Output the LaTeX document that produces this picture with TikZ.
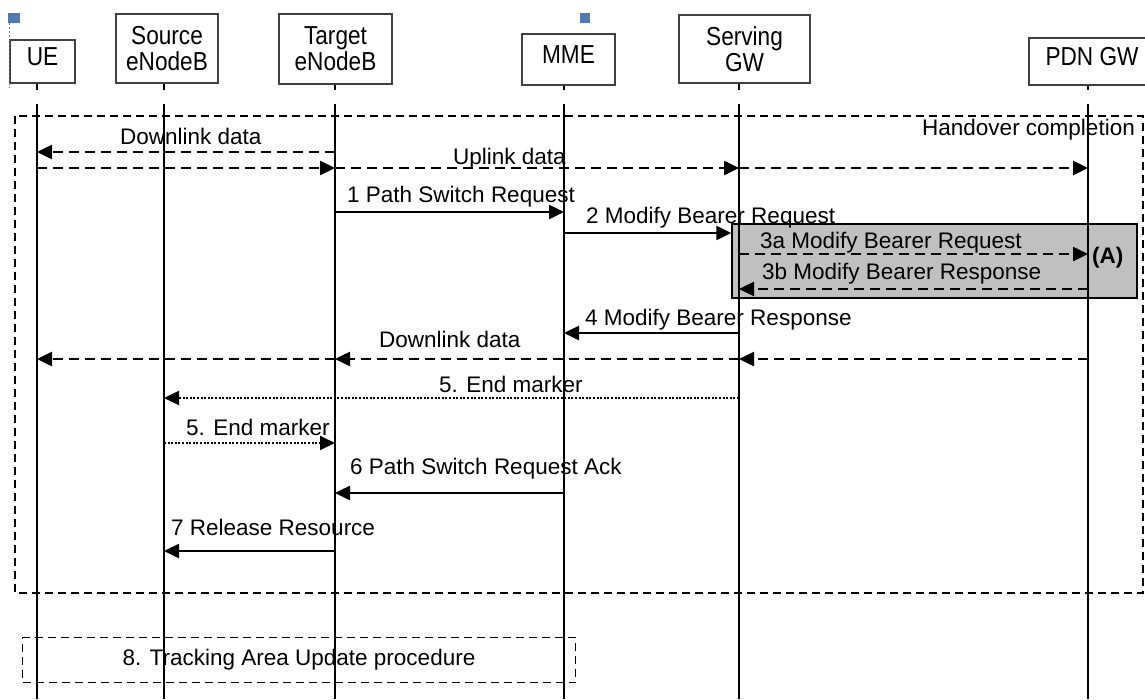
\documentclass[tikz,border=0pt]{standalone}
\usepackage{fontspec}
\setmainfont{Liberation Sans}
\newfontfamily\hdrfont[FakeStretch=0.87]{Liberation Sans}
\usetikzlibrary{positioning}
\usetikzlibrary{arrows.meta}
\definecolor{boxgray}{HTML}{C0C0C0}
\definecolor{handle}{HTML}{4F79B3}
\tikzstyle{entity} = [rectangle, draw=black!75, line width=2.2pt, fill=white, align=center, inner sep=0pt, font=\hdrfont\fontsize{26}{26}\selectfont]
\tikzstyle{entityone} = [entity, text height=19pt, text depth=12pt]
\tikzstyle{lifeline} = [line width=1.7pt]
\tikzstyle{arrow} = [line width=2.5pt, -{Triangle[length=15pt, width=14pt]}]
\tikzstyle{dasharrow} = [arrow, dash pattern=on 10pt off 6pt]
\tikzstyle{dotarrow} = [line width=2pt, dash pattern=on 2pt off 1.6pt, -{Triangle[length=15pt, width=14pt]}]
\tikzstyle{lbl} = [inner sep=0pt, anchor=base west, font=\fontsize{22.5}{26}\selectfont]
\tikzstyle{frame} = [line width=1.7pt, dash pattern=on 8pt off 5pt]

\begin{document}
\begin{tikzpicture}[x=1pt, y=-1pt]
\clip (0,0) rectangle (1145,699);

\coordinate (Lue) at (37,699);
\coordinate (Lsenb) at (164,699);
\coordinate (Ltenb) at (335,699);
\coordinate (Lmme) at (564,699);
\coordinate (Lsgw) at (739,699);
\coordinate (Lpgw) at (1088,699);

\draw[frame] (15,116) rectangle (1143,593);
\node (hc) [lbl] at (922,135) {Handover completion};
\node (boxA) [rectangle, draw=black, line width=1.5pt, fill=boxgray, inner sep=0pt, minimum width=405pt, minimum height=74pt] at (934.5,261) {};

\node (ue) [entityone, minimum width=65pt, minimum height=43pt] at (42.5,61.5) {UE};
\node (senb) [entity, minimum width=102pt, minimum height=69pt] at (167,48.5) {Source\\eNodeB};
\node (tenb) [entity, minimum width=113pt, minimum height=70pt] at (335.5,49) {Target\\eNodeB};
\node (mme) [entityone, minimum width=93pt, minimum height=51pt] at (568.5,59.5) {MME};
\node (sgw) [entity, minimum width=131pt, minimum height=68pt] at (744.5,49) {Serving\\GW};
\node (pgw) [entityone, minimum width=126pt, minimum height=47pt] at (1092,61.5) {PDN GW};

\foreach \n in {ue,senb,tenb,mme,sgw,pgw} {
  \draw[lifeline] (L\n |- \n.south) -- (L\n |- 0,90);
  \draw[lifeline] (L\n |- 0,104) -- (L\n);
}

\fill[handle] (8,13) rectangle (20,23);
\fill[handle] (580,13) rectangle (590,23);
\draw[handle, line width=1pt, dash pattern=on 2pt off 2pt] (9,23) -- (9,88);

\draw[dasharrow] (Ltenb |- 0,152) -- (Lue |- 0,152);
\draw[dasharrow] (Lue |- 0,168) -- (Ltenb |- 0,168);
\draw[dasharrow] (Ltenb |- 0,168) -- (Lsgw |- 0,168);
\draw[dasharrow] (Lsgw |- 0,168) -- (Lpgw |- 0,168);
\draw[arrow] (Ltenb |- 0,212) -- (Lmme |- 0,212);
\draw[arrow] (Lmme |- 0,233) -- (boxA.west |- 0,233);
\draw[dasharrow] (Lsgw |- 0,254) -- (Lpgw |- 0,254);
\draw[dasharrow] (Lpgw |- 0,289) -- (Lsgw |- 0,289);
\draw[arrow] (Lsgw |- 0,333) -- (Lmme |- 0,333);
\draw[dasharrow] (Lpgw |- 0,359) -- (Lsgw |- 0,359);
\draw[dasharrow] (Lsgw |- 0,359) -- (Ltenb |- 0,359);
\draw[dasharrow] (Ltenb |- 0,359) -- (Lue |- 0,359);
\draw[dotarrow] (Lsgw |- 0,398) -- (Lsenb |- 0,398);
\draw[dotarrow] (Lsenb |- 0,443) -- (Ltenb |- 0,443);
\draw[arrow] (Lmme |- 0,493) -- (Ltenb |- 0,493);
\draw[arrow] (Ltenb |- 0,551) -- (Lsenb |- 0,551);

\node (dl1) [lbl] at (120,144) {Downlink data};
\node (ul) [lbl] at (453,164) {Uplink data};
\node (m1) [lbl] at (347,202) {1 Path Switch Request};
\node (m2) [lbl] at (586,223) {2 Modify Bearer Request};
\node (m3a) [lbl] at (760,248) {3a Modify Bearer Request};
\node (m3b) [lbl] at (762,279) {3b Modify Bearer Response};
\node (A) [lbl, font=\fontsize{22.5}{26}\selectfont\bfseries] at (1092,263) {(A)};
\node (m4) [lbl] at (585,325) {4 Modify Bearer Response};
\node (dl2) [lbl] at (379,347) {Downlink data};
\node (m5a) [lbl] at (439,392) {5. End marker};
\node (m5b) [lbl] at (186,435) {5. End marker};
\node (m6) [lbl] at (350,474) {6 Path Switch Request Ack};
\node (m7) [lbl] at (171,535) {7 Release Resource};

\node (tau) [rectangle, draw, frame, inner sep=0pt, minimum width=553pt, minimum height=45pt, font=\fontsize{22.5}{26}\selectfont] at (299,660) {8. Tracking Area Update procedure};

\end{tikzpicture}
\end{document}
